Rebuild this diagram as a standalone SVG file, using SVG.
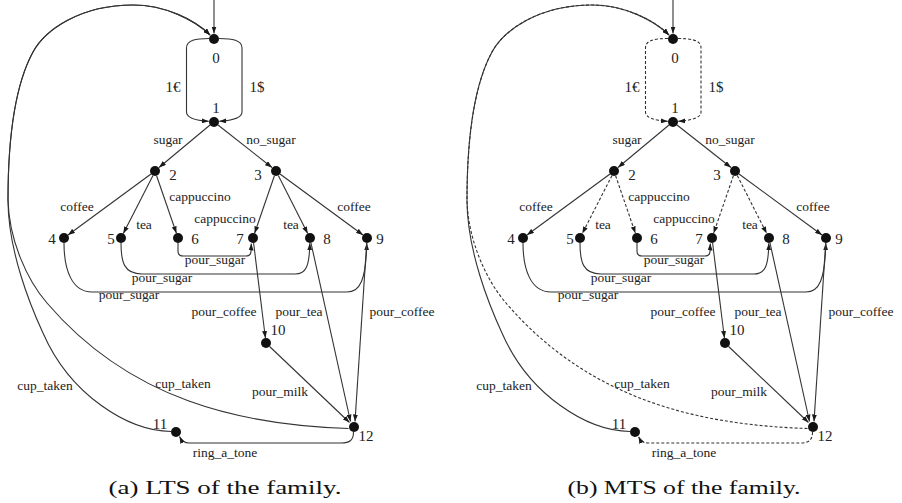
<svg xmlns="http://www.w3.org/2000/svg" width="902" height="503" viewBox="0 0 902 503">
  <defs>
    <marker id="ah" viewBox="0 0 7 5" refX="7" refY="2.5" markerWidth="7" markerHeight="5" markerUnits="userSpaceOnUse" orient="auto">
      <path d="M0,0 L7,2.5 L0,5 z" fill="#1a1a1a"/>
    </marker>
    <style>
      .e { fill: none; stroke: #333; stroke-width: 1.1; marker-end: url(#ah); }
      .d { stroke-dasharray: 3 2; }
      .n { fill: #111; }
      text { font-family: "Liberation Serif", "Times New Roman", serif; fill: #222; text-anchor: middle; }
      .lb { font-size: 13.5px; }
      .nl { font-size: 15px; }
      .cap { font-size: 19px; fill: #111; }
    </style>
  </defs>
  <rect width="902" height="503" fill="#fff"/>

  <!-- (a) LTS -->
  <g id="lts">
    <g id="lts-edges">
      <path class="e" d="M214,0 L214,33.5"/>
      <path class="e" d="M209,38.5 C196,38.5 186.5,40 186.5,48 L186.5,112 C186.5,118 196,120.5 208.8,121.3"/>
      <path class="e" d="M219,38.5 C232,38.5 242,40 242,48 L242,112 C242,118 232,120.5 219.2,121.3"/>
      <path class="e" d="M210,125 L159,167.5"/>
      <path class="e" d="M218,125 L272,167.5"/>
      <path class="e" d="M151,174 L68,235"/>
      <path class="e" d="M153,175.5 L123.3,233.5"/>
      <path class="e" d="M156.6,175.7 L176.4,233.3"/>
      <path class="e" d="M274.4,175.7 L254.6,233.3"/>
      <path class="e" d="M278.3,175.5 L307.7,233.5"/>
      <path class="e" d="M280,174 L363,235"/>
      <path class="e" d="M178,243 L178,251 Q178,256 183,256 L246,256 Q251,256 251,251 L251.3,243.5"/>
      <path class="e" d="M121,243 C121,262 124,274 142,274 L295,274 C306,274 309.5,266 309.8,243.3"/>
      <path class="e" d="M64,243 C64,270 72,292 92,292 L347,292 C360,292 366,280 366.8,243.3"/>
      <path class="e" d="M253.6,243 L265.4,338"/>
      <path class="e" d="M311,243 L350.5,421.5"/>
      <path class="e" d="M366.7,243 L355,421.5"/>
      <path class="e" d="M269.6,346.5 L349.5,422.5"/>
      <path class="e" d="M353.5,432 C353.5,440 350,443 341,443 L189,443 C184,443 181.5,440.5 179.5,436.5"/>
      <path class="e" d="M171,431.5 C128,431 70,395 43,333 C30,305 8,250 8,200 C8,140 15,85 33,52 C45,30 80,5 133,5 C165,5 195,20 210,35"/>
      <path class="e" d="M348.5,428.5 C240,425 130,400 47,303 C27,280 9,240 8,200 C8,140 15,85 33,52 C45,30 80,5 133,5 C165,5 195,20 210,35"/>
    </g>
    <g id="lts-n0"><circle class="n" cx="214" cy="39" r="5"/><text class="nl" x="216" y="63">0</text></g>
    <g id="lts-n1"><circle class="n" cx="214" cy="122" r="5"/><text class="nl" x="216" y="113">1</text></g>
    <g id="lts-n2"><circle class="n" cx="155" cy="171" r="5"/><text class="nl" x="173" y="180">2</text></g>
    <g id="lts-n3"><circle class="n" cx="276" cy="171" r="5"/><text class="nl" x="258" y="180">3</text></g>
    <g id="lts-n4"><circle class="n" cx="64" cy="238" r="5"/><text class="nl" x="52" y="244">4</text></g>
    <g id="lts-n5"><circle class="n" cx="121" cy="238" r="5"/><text class="nl" x="111" y="244">5</text></g>
    <g id="lts-n6"><circle class="n" cx="178" cy="238" r="5"/><text class="nl" x="195" y="244">6</text></g>
    <g id="lts-n7"><circle class="n" cx="253" cy="238" r="5"/><text class="nl" x="240" y="244">7</text></g>
    <g id="lts-n8"><circle class="n" cx="310" cy="238" r="5"/><text class="nl" x="327" y="244">8</text></g>
    <g id="lts-n9"><circle class="n" cx="367" cy="238" r="5"/><text class="nl" x="380" y="244">9</text></g>
    <g id="lts-n10"><circle class="n" cx="266" cy="343" r="5"/><text class="nl" x="278" y="335">10</text></g>
    <g id="lts-n11"><circle class="n" cx="176" cy="432" r="5"/><text class="nl" x="160" y="429">11</text></g>
    <g id="lts-n12"><circle class="n" cx="354" cy="427" r="5"/><text class="nl" x="366" y="441">12</text></g>
    <g id="lts-labels">
      <text class="nl" x="173" y="92">1€</text>
      <text class="nl" x="257" y="92">1$</text>
      <text class="lb" x="168" y="144">sugar</text>
      <text class="lb" x="271" y="144">no_sugar</text>
      <text class="lb" x="77" y="211">coffee</text>
      <text class="lb" x="354" y="211">coffee</text>
      <text class="lb" x="200" y="201">cappuccino</text>
      <text class="lb" x="225" y="223">cappuccino</text>
      <text class="lb" x="144" y="229">tea</text>
      <text class="lb" x="291" y="229">tea</text>
      <text class="lb" x="215" y="264">pour_sugar</text>
      <text class="lb" x="162" y="282">pour_sugar</text>
      <text class="lb" x="129" y="299">pour_sugar</text>
      <text class="lb" x="224" y="316">pour_coffee</text>
      <text class="lb" x="299" y="316">pour_tea</text>
      <text class="lb" x="402" y="316">pour_coffee</text>
      <text class="lb" x="45" y="390">cup_taken</text>
      <text class="lb" x="183" y="388">cup_taken</text>
      <text class="lb" x="280" y="396">pour_milk</text>
      <text class="lb" x="225" y="457">ring_a_tone</text>
    </g>
    <text class="cap" x="225" y="494" textLength="233" lengthAdjust="spacingAndGlyphs">(a) LTS of the family.</text>
  </g>

  <!-- (b) MTS -->
  <g id="mts" transform="translate(459,0)">
    <g id="mts-edges">
      <path class="e" d="M214,0 L214,33.5"/>
      <path class="e d" d="M209,38.5 C196,38.5 186.5,40 186.5,48 L186.5,112 C186.5,118 196,120.5 208.8,121.3"/>
      <path class="e d" d="M219,38.5 C232,38.5 242,40 242,48 L242,112 C242,118 232,120.5 219.2,121.3"/>
      <path class="e" d="M210,125 L159,167.5"/>
      <path class="e" d="M218,125 L272,167.5"/>
      <path class="e" d="M151,174 L68,235"/>
      <path class="e d" d="M153,175.5 L123.3,233.5"/>
      <path class="e d" d="M156.6,175.7 L176.4,233.3"/>
      <path class="e d" d="M274.4,175.7 L254.6,233.3"/>
      <path class="e d" d="M278.3,175.5 L307.7,233.5"/>
      <path class="e" d="M280,174 L363,235"/>
      <path class="e" d="M178,243 L178,251 Q178,256 183,256 L246,256 Q251,256 251,251 L251.3,243.5"/>
      <path class="e" d="M121,243 C121,262 124,274 142,274 L295,274 C306,274 309.5,266 309.8,243.3"/>
      <path class="e" d="M64,243 C64,270 72,292 92,292 L347,292 C360,292 366,280 366.8,243.3"/>
      <path class="e" d="M253.6,243 L265.4,338"/>
      <path class="e" d="M311,243 L350.5,421.5"/>
      <path class="e" d="M366.7,243 L355,421.5"/>
      <path class="e" d="M269.6,346.5 L349.5,422.5"/>
      <path class="e d" d="M353.5,432 C353.5,440 350,443 341,443 L189,443 C184,443 181.5,440.5 179.5,436.5"/>
      <path class="e" d="M171,431.5 C128,431 70,395 43,333 C30,305 8,250 8,200 C8,140 15,85 33,52 C45,30 80,5 133,5 C165,5 195,20 210,35"/>
      <path class="e d" d="M348.5,428.5 C240,425 130,400 47,303 C27,280 9,240 8,200 C8,140 15,85 33,52 C45,30 80,5 133,5 C165,5 195,20 210,35"/>
    </g>
    <g id="mts-n0"><circle class="n" cx="214" cy="39" r="5"/><text class="nl" x="216" y="63">0</text></g>
    <g id="mts-n1"><circle class="n" cx="214" cy="122" r="5"/><text class="nl" x="216" y="113">1</text></g>
    <g id="mts-n2"><circle class="n" cx="155" cy="171" r="5"/><text class="nl" x="173" y="180">2</text></g>
    <g id="mts-n3"><circle class="n" cx="276" cy="171" r="5"/><text class="nl" x="258" y="180">3</text></g>
    <g id="mts-n4"><circle class="n" cx="64" cy="238" r="5"/><text class="nl" x="52" y="244">4</text></g>
    <g id="mts-n5"><circle class="n" cx="121" cy="238" r="5"/><text class="nl" x="111" y="244">5</text></g>
    <g id="mts-n6"><circle class="n" cx="178" cy="238" r="5"/><text class="nl" x="195" y="244">6</text></g>
    <g id="mts-n7"><circle class="n" cx="253" cy="238" r="5"/><text class="nl" x="240" y="244">7</text></g>
    <g id="mts-n8"><circle class="n" cx="310" cy="238" r="5"/><text class="nl" x="327" y="244">8</text></g>
    <g id="mts-n9"><circle class="n" cx="367" cy="238" r="5"/><text class="nl" x="380" y="244">9</text></g>
    <g id="mts-n10"><circle class="n" cx="266" cy="343" r="5"/><text class="nl" x="278" y="335">10</text></g>
    <g id="mts-n11"><circle class="n" cx="176" cy="432" r="5"/><text class="nl" x="160" y="429">11</text></g>
    <g id="mts-n12"><circle class="n" cx="354" cy="427" r="5"/><text class="nl" x="366" y="441">12</text></g>
    <g id="mts-labels">
      <text class="nl" x="173" y="92">1€</text>
      <text class="nl" x="257" y="92">1$</text>
      <text class="lb" x="168" y="144">sugar</text>
      <text class="lb" x="271" y="144">no_sugar</text>
      <text class="lb" x="77" y="211">coffee</text>
      <text class="lb" x="354" y="211">coffee</text>
      <text class="lb" x="200" y="201">cappuccino</text>
      <text class="lb" x="225" y="223">cappuccino</text>
      <text class="lb" x="144" y="229">tea</text>
      <text class="lb" x="291" y="229">tea</text>
      <text class="lb" x="215" y="264">pour_sugar</text>
      <text class="lb" x="162" y="282">pour_sugar</text>
      <text class="lb" x="129" y="299">pour_sugar</text>
      <text class="lb" x="224" y="316">pour_coffee</text>
      <text class="lb" x="299" y="316">pour_tea</text>
      <text class="lb" x="402" y="316">pour_coffee</text>
      <text class="lb" x="45" y="390">cup_taken</text>
      <text class="lb" x="183" y="388">cup_taken</text>
      <text class="lb" x="280" y="396">pour_milk</text>
      <text class="lb" x="225" y="457">ring_a_tone</text>
    </g>
    <text class="cap" x="225" y="494" textLength="233" lengthAdjust="spacingAndGlyphs">(b) MTS of the family.</text>
  </g>
</svg>
